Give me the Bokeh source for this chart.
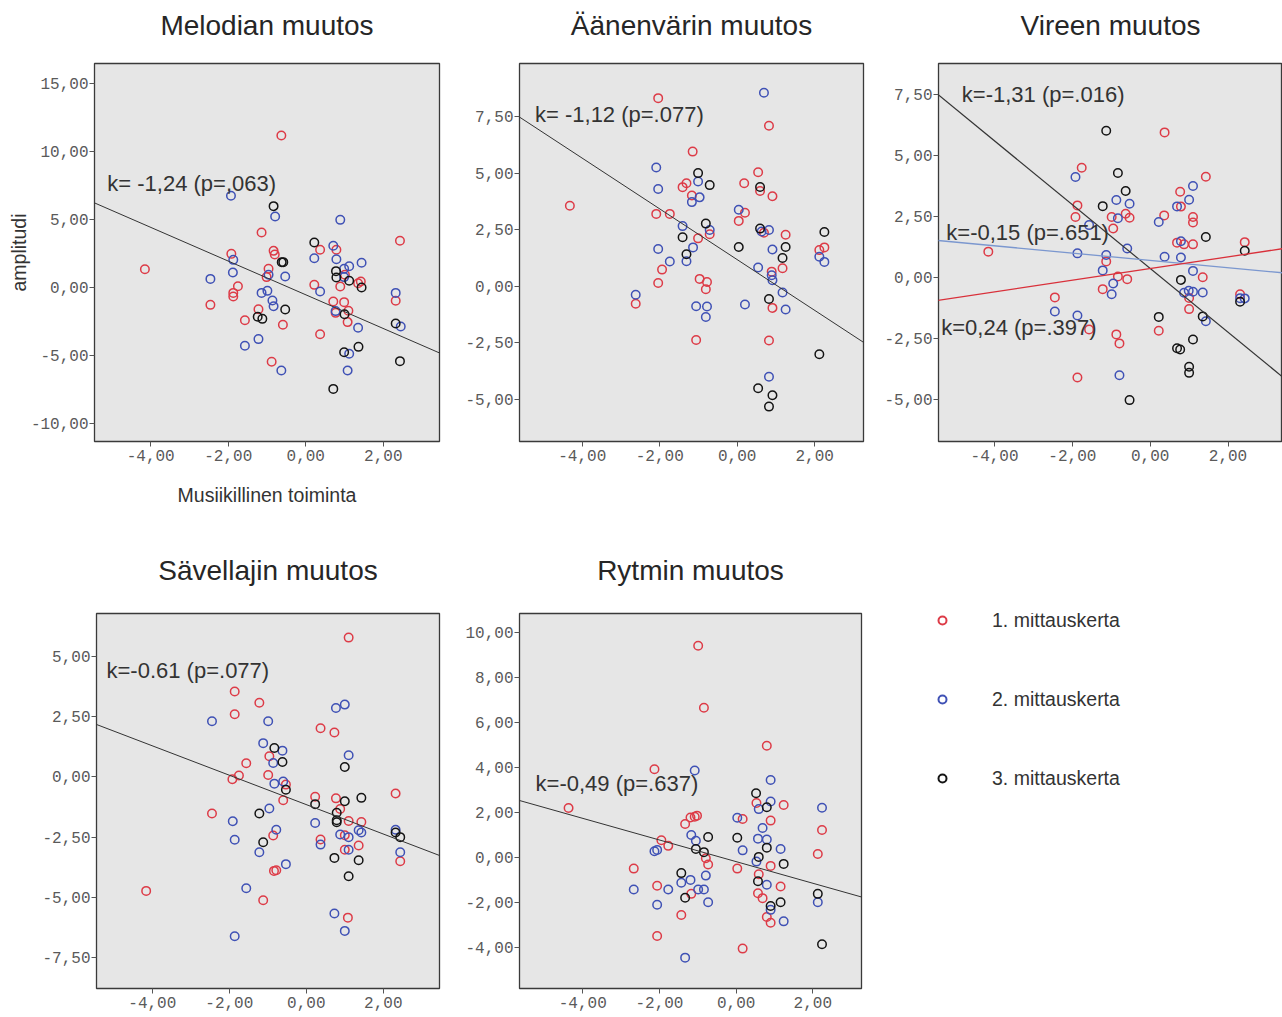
from bokeh.plotting import figure
from bokeh.layouts import row, column
from bokeh.models import Range1d, FixedTicker, Slope, Label, Legend, LegendItem, Title
from bokeh.embed import file_html
from bokeh.resources import INLINE

# ---------------- data ----------------
series_names = ["1. mittauskerta", "2. mittauskerta", "3. mittauskerta"]
series_colors = ["#dd3b47", "#3f51b5", "#141414"]

x_ticks = [-4, -2, 0, 2]
x_tick_labels = ["-4,00", "-2,00", "0,00", "2,00"]

# Melodian muutos
mel_ticks = [-10, -5, 0, 5, 10, 15]
mel_tick_labels = ["-10,00", "-5,00", "0,00", "5,00", "10,00", "15,00"]
mel_red_x = [-0.63, -4.15, -2.46, -1.92, -1.87, -1.87, -1.75, -1.57, -1.14, -1.22, -0.96, -1.01, -0.83, -0.80, -0.59, -0.88,
             0.22, 0.37, 0.37, 0.71, 0.79, 0.77, 0.99, 0.89, 1.01, 1.10, 1.08, 1.35, 1.42, 2.32, 2.43]
mel_red_y = [11.15, 1.32, -1.30, 2.45, -0.42, -0.69, 0.07, -2.43, 4.02, -1.62, 1.35, 0.74, 2.67, 2.40, -2.77, -5.49,
             0.17, 2.75, -3.46, -1.05, 2.75, -1.89, -1.10, 0.05, 0.91, -1.74, -2.57, 0.29, 0.42, -1.00, 3.41]
mel_blue_x = [-1.93, -1.87, -1.88, -2.46, -1.57, -1.22, -1.14, -0.99, -0.96, -0.86, -0.83, -0.79, -0.63, -0.53, 0.22,
              0.37, 0.71, 0.79, 0.77, 0.89, 0.99, 1.12, 1.12, 1.08, 1.35, 1.44, 2.32, 2.45, 0.99]
mel_blue_y = [6.72, 2.01, 1.08, 0.61, -4.31, -3.82, -0.42, -0.27, 0.91, -0.98, -1.40, 5.20, -6.13, 0.78, 2.13,
              -0.32, 3.04, 2.06, -1.76, 4.95, 1.35, 1.54, -4.90, -6.13, -2.99, 1.79, -0.42, -2.89, 0.74]
mel_black_x = [-0.83, -0.62, -0.58, -0.53, -1.24, -1.12, 0.22, 0.78, 0.79, 1.12, 1.44, 1.00, 0.99, 1.36, 0.71, 2.32, 2.43]
mel_black_y = [5.96, 1.84, 1.84, -1.64, -2.18, -2.33, 3.28, 1.18, 0.71, 0.47, -0.02, -1.99, -4.78, -4.39, -7.48, -2.67, -5.44]

# Äänenvärin muutos
aan_ticks = [-5, -2.5, 0, 2.5, 5, 7.5]
aan_tick_labels = ["-5,00", "-2,50", "0,00", "2,50", "5,00", "7,50"]
aan_red_x = [-4.32, -2.04, -2.62, -2.09, -2.04, -1.94, -1.74, -1.41, -1.31, -1.15, -1.17, -1.01, -1.06, -0.97, -0.78, -0.81,
             -0.71, 0.04, 0.18, 0.20, 0.54, 0.59, 0.69, 0.82, 0.91, 0.89, 0.91, 0.82, 1.17, 1.25, 2.12, 2.25]
aan_red_y = [3.56, 8.31, -0.77, 3.20, 0.15, 0.74, 3.20, 4.38, 4.55, 5.95, 4.01, 2.12, -2.37, 0.33, 0.19, -0.13,
             2.30, 2.89, 4.55, 3.25, 5.04, 4.21, 2.37, 7.09, 3.98, 0.65, -0.95, -2.39, 0.80, 2.28, 1.60, 1.72]
aan_blue_x = [-2.09, -2.04, -2.04, -2.62, -1.74, -1.41, -1.31, -1.17, -1.14, -1.01, -0.97, -1.06, -0.78, -0.81, -0.71,
              0.04, 0.20, 0.54, 0.63, 0.82, 0.69, 0.91, 0.89, 0.91, 1.17, 1.25, 0.82, 2.12, 2.25]
aan_blue_y = [5.25, 4.30, 1.65, -0.37, 1.10, 2.66, 1.11, 3.72, 1.72, 4.63, 3.93, -0.88, -0.89, -1.35, 2.49,
              3.38, -0.80, 0.83, 2.42, 2.49, 8.55, 1.63, 0.49, 0.27, -0.27, -1.02, -3.99, 1.31, 1.08]
aan_black_x = [-1.01, -0.71, -1.41, -1.31, -0.81, 0.04, 0.59, 0.59, 1.17, 1.25, 2.25, 0.82, 2.12, 0.54, 0.91, 0.82]
aan_black_y = [5.00, 4.47, 2.17, 1.42, 2.77, 1.74, 4.39, 2.55, 1.25, 1.74, 2.40, -0.56, -3.00, -4.50, -4.81, -5.31]

# Vireen muutos
vir_ticks = [-5, -2.5, 0, 2.5, 5, 7.5]
vir_tick_labels = ["-5,00", "-2,50", "0,00", "2,50", "5,00", "7,50"]
vir_red_x = [-4.16, -1.87, -1.92, -1.76, -2.45, -1.87, -1.57, -1.22, -1.13, -0.99, -0.95, -0.83, -0.87, -0.79, -0.63, -0.53,
             -0.59, 0.37, 0.36, 0.22, 0.77, 0.79, 0.69, 0.87, 1.10, 1.10, 1.10, 1.00, 1.00, 1.35, 1.43, 2.31, 2.43]
vir_red_y = [1.06, 2.96, 2.48, 4.51, -0.82, -4.11, -2.14, -0.48, 0.66, 2.48, 2.01, 0.04, -2.34, -2.71, 2.62, 2.45,
             -0.07, 5.96, 2.55, -2.19, 3.52, 2.91, 1.43, 1.36, 2.48, 2.26, 1.36, -0.84, -1.30, 0.01, 4.14, -0.69, 1.45]
vir_blue_x = [-1.92, -1.87, -1.87, -2.45, -1.57, -1.22, -1.13, -0.95, -0.99, -0.87, -0.83, -0.79, -0.59, -0.53, 0.22,
              0.37, 0.69, 0.79, 0.79, 0.87, 1.00, 1.10, 1.10, 0.99, 1.10, 1.35, 1.43, 2.31, 2.43]
vir_blue_y = [4.13, 0.99, -1.56, -1.40, 2.15, 0.29, 0.92, -0.25, -0.69, 3.18, 2.43, -4.02, 1.19, 3.03, 2.28,
              0.85, 2.92, 1.49, 0.82, -0.63, 3.19, 3.76, 0.27, -0.55, -0.59, -0.62, -1.80, -0.85, -0.86]
vir_black_x = [-1.13, -0.83, -0.63, -1.22, -0.53, 0.22, 0.79, 0.69, 0.77, 1.00, 1.00, 1.10, 1.35, 1.43, 2.43, 2.31]
vir_black_y = [6.03, 4.29, 3.55, 2.93, -5.04, -1.62, -0.10, -2.91, -2.96, -3.67, -3.92, -2.55, -1.60, 1.66, 1.10, -1.00]

# Sävellajin muutos
sav_ticks = [-7.5, -5, -2.5, 0, 2.5, 5]
sav_tick_labels = ["-7,50", "-5,00", "-2,50", "0,00", "2,50", "5,00"]
sav_red_x = [-4.16, -2.45, -1.86, -1.86, -1.92, -1.75, -1.56, -1.22, -1.12, -0.96, -0.99, -0.86, -0.84, -0.78, -0.60, -0.53,
             0.23, 0.37, 0.37, 0.73, 0.77, 0.88, 1.10, 1.10, 1.00, 1.00, 1.08, 1.43, 1.36, 2.32, 2.44]
sav_red_y = [-4.73, -1.52, 3.54, 2.60, -0.10, 0.06, 0.57, 3.08, -5.12, 0.86, 0.08, -2.43, -3.90, -3.87, -0.97, -0.32,
             -0.82, 2.02, -2.60, 1.84, -0.89, -1.33, 5.78, -1.83, -2.42, -3.02, -5.84, -1.87, -2.85, -0.69, -3.50]
sav_blue_x = [-2.45, -1.91, -1.86, -1.86, -1.56, -1.22, -1.12, -0.99, -0.96, -0.86, -0.83, -0.78, -0.62, -0.60, -0.53,
              0.23, 0.37, 0.77, 1.00, 1.10, 0.88, 1.10, 1.10, 0.73, 1.00, 1.36, 1.43, 2.32, 2.44]
sav_blue_y = [2.31, -1.84, -2.61, -6.61, -4.62, -3.13, 1.40, 2.31, -1.31, 0.58, -0.28, -2.19, 1.09, -0.19, -3.62,
              -1.91, -2.81, 2.86, 3.00, 0.90, -2.39, -2.50, -3.02, -5.67, -6.39, -2.21, -2.31, -2.19, -3.13]
sav_black_x = [-0.83, -0.62, -0.53, -1.22, -1.12, 0.23, 1.00, 1.00, 1.43, 0.79, 0.79, 0.79, 0.73, 1.36, 1.10, 2.32, 2.44]
sav_black_y = [1.20, 0.62, -0.53, -1.52, -2.71, -1.13, 0.41, -1.01, -0.87, -1.49, -1.80, -1.88, -3.36, -3.46, -4.12, -2.31, -2.50]

# Rytmin muutos
ryt_ticks = [-4, -2, 0, 2, 4, 6, 8, 10]
ryt_tick_labels = ["-4,00", "-2,00", "0,00", "2,00", "4,00", "6,00", "8,00", "10,00"]
ryt_red_x = [-4.37, -2.13, -2.67, -2.06, -2.06, -1.95, -1.77, -1.43, -1.33, -1.19, -1.08, -1.02, -1.17, -0.99, -0.84, -0.79,
             -0.73, 0.03, 0.17, 0.17, 0.53, 0.59, 0.57, 0.69, 0.80, 0.80, 0.90, 0.90, 0.90, 1.24, 1.16, 2.13, 2.24]
ryt_red_y = [2.20, 3.92, -0.49, -1.25, -3.48, 0.77, 0.52, -2.55, 1.49, 1.78, 1.81, 1.86, -1.61, 9.40, 6.65, -0.03,
             -0.31, -0.49, 1.71, -4.04, 2.42, -0.74, -1.58, -1.80, 4.96, -2.64, 1.64, -0.37, -2.89, 2.33, -1.28, 0.16, 1.22]
ryt_blue_x = [-1.08, -2.13, -2.06, -2.67, -2.06, -1.77, -1.43, -1.19, -1.17, -1.05, -0.99, -0.84, -0.79, -0.73, -1.33,
              0.03, 0.17, 0.53, 0.59, 0.57, 0.69, 0.80, 0.80, 0.90, 0.90, 0.90, 1.16, 1.24, 2.13, 2.24]
ryt_blue_y = [3.86, 0.28, 0.34, -1.42, -2.09, -1.42, -1.12, -0.99, 1.00, 0.75, -1.42, -1.42, -0.80, -1.98, -4.44,
              1.77, 0.32, -0.18, 2.15, 0.84, 1.31, 0.80, -1.21, 3.44, 2.49, -2.32, 0.38, -2.83, -1.98, 2.21]
ryt_black_x = [0.52, 0.80, 0.80, 0.59, 0.57, 0.03, -0.73, -1.05, -0.84, -1.43, -1.33, 1.24, 0.90, 1.16, 2.13, 2.24]
ryt_black_y = [2.85, 2.23, 0.44, 0.03, -1.05, 0.88, 0.91, 0.38, 0.24, -0.69, -1.78, -0.28, -2.15, -1.98, -1.61, -3.85]

# regression slopes (k) and intercepts
mel_k, mel_b = -1.24, -0.56
aan_k, aan_b = -1.12, 1.18
vir_k, vir_b = [-1.31, -0.15, 0.24], [0.37, 0.70, 0.365]
sav_k, sav_b = -0.61, -1.15
ryt_k, ryt_b = -0.48, -0.18

mel_note = "k= -1,24 (p=,063)"
aan_note = "k= -1,12 (p=.077)"
vir_notes = ["k=-1,31 (p=.016)", "k=-0,15 (p=.651)", "k=0,24 (p=.397)"]
sav_note = "k=-0.61 (p=.077)"
ryt_note = "k=-0,49 (p=.637)"

titles = ["Melodian muutos", "Äänenvärin muutos", "Vireen muutos", "Sävellajin muutos", "Rytmin muutos"]
x_axis_title = "Musiikillinen toiminta"
y_axis_title = "amplitudi"

SANS = "Liberation Sans"
MONO = "Liberation Mono"


def make_panel(title, xs, ys, xr, yr, yticks, ylabels, width, height, borders, title_gap,
               xlabel=None, ylabel=None):
    left, right, top, bottom = borders
    p = figure(width=width, height=height, output_backend="svg", toolbar_location=None,
               x_range=Range1d(*xr), y_range=Range1d(*yr),
               min_border_left=left, min_border_right=right,
               min_border_top=top, min_border_bottom=bottom)
    p.title.text = title
    p.title.align = "center"
    p.title.text_font = SANS
    p.title.text_font_size = "28px"
    p.title.text_font_style = "normal"
    p.title.text_color = "#262626"
    p.title.standoff = 0
    # empty spacer between title and frame
    p.add_layout(Title(text=" ", text_font_size="1px", standoff=title_gap), "above")
    p.background_fill_color = "#e6e6e6"
    p.border_fill_color = "white"
    p.outline_line_color = "#3a3a3a"
    p.outline_line_width = 1.3
    p.grid.visible = False

    for ax, ticks, labels in ((p.xaxis[0], x_ticks, x_tick_labels), (p.yaxis[0], yticks, ylabels)):
        ax.ticker = FixedTicker(ticks=ticks)
        ax.major_label_overrides = {t: l for t, l in zip(ticks, labels)}
        ax.axis_line_color = None
        ax.major_tick_in = 0
        ax.major_tick_out = 5
        ax.major_tick_line_color = "#555555"
        ax.minor_tick_line_color = None
        ax.major_label_text_font = MONO
        ax.major_label_text_font_size = "16px"
        ax.major_label_text_color = "#5a5a5a"
        ax.axis_label_text_font = SANS
        ax.axis_label_text_font_size = "19.5px"
        ax.axis_label_text_font_style = "normal"
        ax.axis_label_text_color = "#333333"
    p.xaxis[0].major_label_standoff = 3
    p.yaxis[0].major_label_standoff = 1
    if xlabel:
        p.xaxis[0].axis_label = xlabel
        p.xaxis[0].axis_label_standoff = 20
    if ylabel:
        p.yaxis[0].axis_label = ylabel
        p.yaxis[0].axis_label_standoff = -2

    renderers = []
    for x, y, c in zip(xs, ys, series_colors):
        r = p.scatter(x, y, marker="circle", size=8.5, fill_color=None, line_color=c, line_width=1.5)
        renderers.append(r)
    return p, renderers


def add_line(p, k, b, color="#333333", width=1.0):
    p.add_layout(Slope(gradient=k, y_intercept=b, line_color=color, line_width=width))


def add_note(p, x, y, text):
    p.add_layout(Label(x=x, y=y, text=text, text_font=SANS, text_font_size="22px",
                       text_color="#333333", text_baseline="middle", text_align="left"))


H1, H2 = 530, 487
p1, _ = make_panel(titles[0], [mel_red_x, mel_blue_x, mel_black_x], [mel_red_y, mel_blue_y, mel_black_y],
                   (-5.45, 3.45), (-11.35, 16.45), mel_ticks, mel_tick_labels, 460, H1, (94, 21, 63, 89), 20,
                   xlabel=x_axis_title, ylabel=y_axis_title)
add_line(p1, mel_k, mel_b)
add_note(p1, -5.12, 7.65, mel_note)

p2, _ = make_panel(titles[1], [aan_red_x, aan_blue_x, aan_black_x], [aan_red_y, aan_blue_y, aan_black_y],
                   (-5.62, 3.26), (-6.85, 9.84), aan_ticks, aan_tick_labels, 415, H1, (59, 12, 63, 89), 20)
add_line(p2, aan_k, aan_b)
add_note(p2, -5.22, 7.61, aan_note)

p3, _ = make_panel(titles[2], [vir_red_x, vir_blue_x, vir_black_x], [vir_red_y, vir_blue_y, vir_black_y],
                   (-5.44, 3.40), (-6.74, 8.79), vir_ticks, vir_tick_labels, 407, H1, (63, 0, 63, 89), 20)
add_line(p3, vir_k[0], vir_b[0], "#333333", 1.2)
add_line(p3, vir_k[1], vir_b[1], "#7b97cf", 1.3)
add_line(p3, vir_k[2], vir_b[2], "#d9303a", 1.3)
add_note(p3, -4.84, 7.5, vir_notes[0])
add_note(p3, -5.24, 1.83, vir_notes[1])
add_note(p3, -5.37, -2.06, vir_notes[2])

p4, _ = make_panel(titles[3], [sav_red_x, sav_blue_x, sav_black_x], [sav_red_y, sav_blue_y, sav_black_y],
                   (-5.45, 3.46), (-8.78, 6.78), sav_ticks, sav_tick_labels, 460, H2, (96, 21, 83, 29), 25)
add_line(p4, sav_k, sav_b)
add_note(p4, -5.19, 4.40, sav_note)

p5, _ = make_panel(titles[4], [ryt_red_x, ryt_blue_x, ryt_black_x], [ryt_red_y, ryt_blue_y, ryt_black_y],
                   (-5.65, 3.27), (-5.81, 10.83), ryt_ticks, ryt_tick_labels, 415, H2, (59, 14, 83, 29), 25)
add_line(p5, ryt_k, ryt_b)
add_note(p5, -5.23, 3.30, ryt_note)

# legend panel
p6 = figure(width=407, height=H2, output_backend="svg", toolbar_location=None,
            x_range=Range1d(0, 1), y_range=Range1d(0, 1), min_border=0)
p6.axis.visible = False
p6.grid.visible = False
p6.outline_line_color = None
p6.background_fill_color = "white"
items = []
for name, c in zip(series_names, series_colors):
    # off-range placeholder so the legend can draw its marker
    r = p6.scatter([-5], [-5], marker="circle", size=10, fill_color=None, line_color=c, line_width=2)
    items.append(LegendItem(label=name, renderers=[r]))
leg = Legend(items=items, location=(57, 195), orientation="vertical",
             glyph_width=20, glyph_height=30, label_height=30, label_standoff=40, spacing=49,
             padding=10, margin=0,
             label_text_font=SANS, label_text_font_size="19.5px", label_text_color="#333333",
             border_line_color=None, background_fill_alpha=0)
p6.add_layout(leg)

layout = column(row(p1, p2, p3), row(p4, p5, p6))
open("out.html", "w").write(file_html(layout, INLINE))
